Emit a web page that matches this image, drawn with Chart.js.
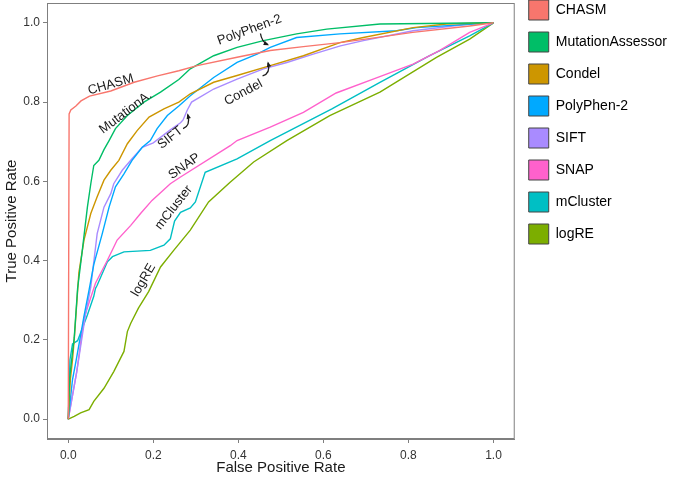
<!DOCTYPE html>
<html>
<head>
<meta charset="utf-8">
<script src="https://cdn.jsdelivr.net/npm/chart.js@4.4.1/dist/chart.umd.min.js"></script>
<style>
  html, body { margin: 0; padding: 0; background: #fff; }
  #wrap { width: 685px; height: 477px; }
</style>
</head>
<body>
<div id="wrap"><canvas id="roc" width="685" height="477"></canvas></div>
<script>
// ROC curves, [false positive rate, true positive rate]
const methods = ['CHASM', 'MutationAssessor', 'Condel', 'PolyPhen-2', 'SIFT', 'SNAP', 'mCluster', 'logRE'];

const chasm = [[0,0],[0.002,0.77],[0.006,0.78],[0.018,0.79],[0.03,0.803],[0.05,0.815],[0.1,0.828],[0.155,0.85],[0.21,0.866],[0.26,0.879],[0.303,0.892],[0.397,0.913],[0.475,0.93],[0.553,0.94],[0.639,0.95],[0.72,0.962],[0.81,0.976],[0.944,0.992],[1,1]];

const mutationAssessor = [[0,0],[0.003,0.1],[0.008,0.15],[0.014,0.205],[0.022,0.33],[0.033,0.426],[0.045,0.535],[0.053,0.594],[0.06,0.64],[0.072,0.653],[0.084,0.68],[0.096,0.703],[0.111,0.733],[0.139,0.766],[0.178,0.8],[0.217,0.825],[0.26,0.857],[0.287,0.884],[0.342,0.917],[0.397,0.938],[0.459,0.955],[0.537,0.972],[0.608,0.984],[0.733,0.997],[1,1]];

const condel = [[0,0],[0.005,0.1],[0.01,0.15],[0.014,0.2],[0.025,0.37],[0.037,0.452],[0.053,0.519],[0.068,0.561],[0.084,0.603],[0.1,0.628],[0.119,0.653],[0.139,0.695],[0.162,0.728],[0.19,0.762],[0.225,0.783],[0.26,0.8],[0.287,0.821],[0.342,0.85],[0.397,0.867],[0.475,0.892],[0.553,0.917],[0.639,0.95],[0.694,0.963],[0.811,0.988],[0.889,0.997],[1,1]];

const polyPhen = [[0,0],[0.01,0.1],[0.018,0.145],[0.037,0.26],[0.049,0.326],[0.06,0.39],[0.08,0.468],[0.096,0.535],[0.111,0.586],[0.131,0.619],[0.15,0.653],[0.174,0.686],[0.193,0.703],[0.209,0.733],[0.233,0.766],[0.26,0.79],[0.287,0.816],[0.342,0.862],[0.397,0.9],[0.444,0.921],[0.475,0.938],[0.537,0.963],[0.639,0.972],[0.772,0.98],[0.819,0.988],[1,1]];

const sift = [[0,0],[0.02,0.12],[0.04,0.26],[0.053,0.334],[0.068,0.468],[0.084,0.535],[0.1,0.569],[0.107,0.594],[0.127,0.628],[0.15,0.657],[0.174,0.686],[0.2,0.697],[0.24,0.73],[0.264,0.748],[0.27,0.755],[0.28,0.78],[0.29,0.8],[0.342,0.833],[0.397,0.858],[0.459,0.884],[0.514,0.9],[0.576,0.921],[0.64,0.942],[0.694,0.955],[0.811,0.98],[0.944,0.997],[1,1]];

const snap = [[0,0],[0.02,0.12],[0.037,0.255],[0.064,0.343],[0.092,0.401],[0.115,0.452],[0.147,0.489],[0.17,0.519],[0.197,0.552],[0.24,0.594],[0.264,0.611],[0.381,0.69],[0.397,0.703],[0.475,0.737],[0.553,0.774],[0.63,0.823],[0.717,0.858],[0.811,0.896],[0.873,0.93],[0.944,0.976],[1,1]];

const mCluster = [[0,0],[0.004,0.15],[0.01,0.19],[0.022,0.198],[0.045,0.263],[0.06,0.31],[0.064,0.33],[0.068,0.338],[0.092,0.397],[0.104,0.41],[0.131,0.422],[0.193,0.426],[0.225,0.439],[0.24,0.455],[0.25,0.5],[0.264,0.522],[0.287,0.533],[0.299,0.548],[0.322,0.623],[0.397,0.657],[0.475,0.703],[0.62,0.783],[0.733,0.85],[0.85,0.917],[0.944,0.967],[1,1]];

const logRE = [[0,0],[0.014,0.007],[0.029,0.016],[0.049,0.024],[0.06,0.045],[0.084,0.078],[0.107,0.12],[0.131,0.171],[0.139,0.221],[0.147,0.242],[0.165,0.28],[0.189,0.322],[0.217,0.384],[0.248,0.426],[0.287,0.477],[0.33,0.548],[0.38,0.597],[0.436,0.649],[0.514,0.703],[0.615,0.766],[0.733,0.825],[0.866,0.913],[0.944,0.959],[1,1]];

const curves = [chasm, mutationAssessor, condel, polyPhen, sift, snap, mCluster, logRE];
const colors = ['#F8766D', '#00BE67', '#CD9600', '#00A9FF', '#A98BFF', '#FF61CC', '#00BFC4', '#7CAE00'];

const xTicks = [0, 0.2, 0.4, 0.6, 0.8, 1.0];
const yTicks = [0, 0.2, 0.4, 0.6, 0.8, 1.0];

// text labels on the curves (data coordinates, angle in degrees)
const curveLabels = [
  { text: 'CHASM', x: 0.1, y: 0.844, angle: -16 },
  { text: 'MutationA.', x: 0.135, y: 0.774, angle: -37 },
  { text: 'PolyPhen-2', x: 0.426, y: 0.982, angle: -20 },
  { text: 'Condel', x: 0.412, y: 0.824, angle: -28 },
  { text: 'SIFT', x: 0.24, y: 0.71, angle: -38 },
  { text: 'SNAP', x: 0.273, y: 0.638, angle: -35 },
  { text: 'mCluster', x: 0.248, y: 0.534, angle: -52 },
  { text: 'logRE', x: 0.177, y: 0.351, angle: -60 }
];
// little curved arrows: from, control, to
const arrows = [
  { from: [0.452, 0.973], ctrl: [0.455, 0.952], to: [0.469, 0.945] },
  { from: [0.457, 0.866], ctrl: [0.476, 0.872], to: [0.47, 0.899] },
  { from: [0.27, 0.733], ctrl: [0.288, 0.74], to: [0.281, 0.768] }
];

const gray = '#7f7f7f';
const font = 'Liberation Sans, Arial, sans-serif';

const panelBorder = {
  id: 'panelBorder',
  afterLayout(chart) {
    // legend sits at the very top, like the original
    chart.legend.top -= 15;
    chart.legend.bottom -= 15;
    chart.legend.left += 2;
    chart.legend.right += 2;
  },
  afterDatasetsDraw(chart) {
    const { ctx, chartArea: a, scales } = chart;
    ctx.save();
    ctx.strokeStyle = gray;
    ctx.lineWidth = 1;
    ctx.strokeRect(a.left + 0.5, a.top + 0.5, a.right - a.left - 1, a.bottom - a.top - 1);

    ctx.fillStyle = '#1a1a1a';
    ctx.font = '13px ' + font;
    ctx.textAlign = 'center';
    ctx.textBaseline = 'middle';
    curveLabels.forEach(function (l) {
      ctx.save();
      ctx.translate(scales.x.getPixelForValue(l.x), scales.y.getPixelForValue(l.y));
      ctx.rotate(l.angle * Math.PI / 180);
      ctx.fillText(l.text, 0, 0);
      ctx.restore();
    });

    ctx.strokeStyle = '#1a1a1a';
    ctx.lineWidth = 1.3;
    arrows.forEach(function (ar) {
      const fx = scales.x.getPixelForValue(ar.from[0]), fy = scales.y.getPixelForValue(ar.from[1]);
      const cx = scales.x.getPixelForValue(ar.ctrl[0]), cy = scales.y.getPixelForValue(ar.ctrl[1]);
      const tx = scales.x.getPixelForValue(ar.to[0]), ty = scales.y.getPixelForValue(ar.to[1]);
      ctx.beginPath();
      ctx.moveTo(fx, fy);
      ctx.quadraticCurveTo(cx, cy, tx, ty);
      ctx.stroke();
      const ang = Math.atan2(ty - cy, tx - cx);
      ctx.beginPath();
      ctx.moveTo(tx + Math.cos(ang) * 1.5, ty + Math.sin(ang) * 1.5);
      ctx.lineTo(tx - Math.cos(ang - 0.5) * 4.5, ty - Math.sin(ang - 0.5) * 4.5);
      ctx.lineTo(tx - Math.cos(ang + 0.5) * 4.5, ty - Math.sin(ang + 0.5) * 4.5);
      ctx.closePath();
      ctx.fill();
    });
    ctx.restore();
  }
};

const datasets = methods.map(function (name, i) {
  return {
    label: name,
    data: curves[i].map(p => ({ x: p[0], y: p[1] })),
    borderColor: colors[i],
    backgroundColor: colors[i],
    borderWidth: 1.4,
    pointRadius: 0,
    tension: 0,
    fill: false
  };
});

new Chart(document.getElementById('roc'), {
  type: 'line',
  data: { datasets: datasets },
  plugins: [panelBorder],
  options: {
    responsive: false,
    animation: false,
    events: [],
    layout: { padding: { top: 3, right: 10, left: 0, bottom: 0 } },
    plugins: {
      tooltip: { enabled: false },
      legend: {
        position: 'right',
        align: 'start',
        labels: {
          boxWidth: 20,
          boxHeight: 20,
          padding: 12,
          color: '#1a1a1a',
          font: { size: 14, family: font },
          generateLabels: function (chart) {
            return chart.data.datasets.map(function (d, i) {
              return { text: d.label, fillStyle: d.backgroundColor, strokeStyle: '#444', lineWidth: 1, hidden: false, datasetIndex: i };
            });
          }
        }
      }
    },
    scales: {
      x: {
        type: 'linear',
        min: -0.05,
        max: 1.05,
        afterBuildTicks: s => { s.ticks = xTicks.map(v => ({ value: v })); },
        afterFit: s => { s.height = 38; },
        grid: { drawOnChartArea: false, tickLength: 4, color: gray },
        border: { color: gray },
        ticks: { callback: v => v.toFixed(1), color: '#333', font: { size: 12, family: font }, padding: 5, maxRotation: 0, autoSkip: false },
        title: { display: true, text: 'False Positive Rate', color: '#1a1a1a', font: { size: 15, family: font }, padding: { top: 0, bottom: 0 } }
      },
      y: {
        type: 'linear',
        min: -0.05,
        max: 1.05,
        afterBuildTicks: s => { s.ticks = yTicks.map(v => ({ value: v })); },
        afterFit: s => { s.width = 47; s.paddingTop = 0; s.paddingBottom = 0; },
        grid: { drawOnChartArea: false, tickLength: 4, color: gray },
        border: { color: gray },
        ticks: { callback: v => v.toFixed(1), color: '#333', font: { size: 12, family: font }, padding: 3, autoSkip: false },
        title: { display: true, text: 'True Positive Rate', color: '#1a1a1a', font: { size: 15, family: font }, padding: { top: 3, bottom: 0 } }
      }
    }
  }
});
</script>
</body>
</html>
